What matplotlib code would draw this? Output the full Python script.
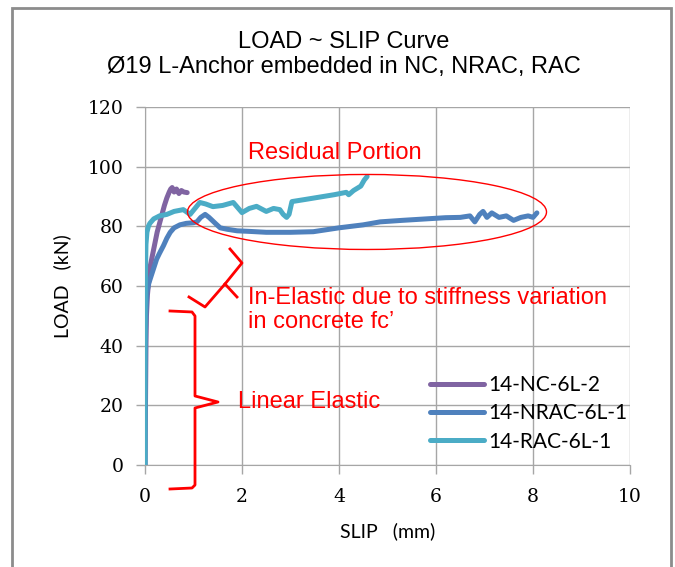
import numpy as np
import matplotlib.pyplot as plt
from matplotlib.patches import Ellipse, Rectangle

# ===== Data =====
nc_slip = [0.0, 0.01, 0.02, 0.03, 0.05, 0.08, 0.10, 0.15, 0.20, 0.25, 0.30, 0.35, 0.40, 0.45,
           0.50, 0.53, 0.56, 0.60, 0.65, 0.70, 0.75, 0.80, 0.87]
nc_load = [0.0, 20.0, 40.0, 50.0, 57.0, 62.0, 66.0, 70.0, 74.0, 78.0, 81.0, 84.0, 87.0, 89.5,
           91.5, 92.5, 93.0, 91.5, 92.5, 91.0, 92.0, 91.5, 91.3]

nrac_slip = [0.0, 0.0, 0.01, 0.02, 0.04, 0.08, 0.12, 0.18, 0.24, 0.30, 0.38, 0.45, 0.52, 0.60,
             0.72, 0.85, 1.0, 1.07, 1.15, 1.24, 1.32, 1.45, 1.55, 1.70, 1.90, 2.16, 2.5, 3.0,
             3.47, 4.0, 4.5, 4.85, 5.3, 5.8, 6.2, 6.5, 6.7, 6.8, 6.9, 6.97, 7.05, 7.15, 7.3,
             7.45, 7.6, 7.75, 7.9, 8.0, 8.08]
nrac_load = [0.0, 30.0, 45.0, 52.0, 58.0, 61.0, 63.0, 66.0, 69.0, 71.0, 73.5, 76.0, 78.0, 79.5,
             80.5, 81.0, 81.2, 81.5, 83.0, 84.0, 83.0, 81.0, 79.5, 79.0, 78.5, 78.3, 78.0, 78.0,
             78.2, 79.5, 80.5, 81.5, 82.0, 82.5, 82.9, 83.0, 83.5, 81.5, 84.0, 85.0, 83.0, 84.5,
             83.0, 83.5, 82.0, 83.0, 83.5, 83.0, 84.5]

rac_slip = [0.0, 0.0, 0.01, 0.02, 0.04, 0.07, 0.10, 0.18, 0.30, 0.45, 0.60, 0.79, 0.93, 1.03,
            1.13, 1.25, 1.40, 1.60, 1.82, 2.00, 2.15, 2.30, 2.50, 2.65, 2.78, 2.85, 2.92, 2.97,
            3.03, 3.3, 3.6, 3.9, 4.15, 4.2, 4.3, 4.45, 4.52, 4.58]
rac_load = [0.0, 40.0, 65.0, 74.0, 78.0, 80.0, 81.0, 82.5, 83.5, 84.0, 85.0, 85.6, 84.0, 86.0,
            88.0, 87.5, 86.6, 87.0, 88.0, 84.6, 86.0, 86.7, 85.0, 86.0, 85.6, 84.0, 83.0, 84.0,
            88.3, 89.0, 89.8, 90.6, 91.4, 90.6, 92.0, 93.5, 95.5, 96.7]

series_names = ["14-NC-6L-2", "14-NRAC-6L-1", "14-RAC-6L-1"]
series_colors = ["#8064A2", "#4F81BD", "#4BACC6"]

x_ticks = [0, 2, 4, 6, 8, 10]
y_ticks = [0, 20, 40, 60, 80, 100, 120]

# ===== Figure =====
fig = plt.figure(figsize=(6.75, 5.67), dpi=100)
ax = fig.add_axes([145 / 675, 1 - 465 / 567, 485 / 675, 358 / 567])

# outer chart border
fig.patches.append(Rectangle((12 / 675, -0.02), 659 / 675, 1.006, transform=fig.transFigure,
                             fill=False, edgecolor="#8C8C8C", linewidth=2))

for xs, ys, name, col in zip([nc_slip, nrac_slip, rac_slip], [nc_load, nrac_load, rac_load],
                             series_names, series_colors):
    ax.plot(xs, ys, color=col, linewidth=3.6, label=name, solid_capstyle="round",
            solid_joinstyle="round", zorder=3)

ax.set_xlim(0, 10)
ax.set_ylim(0, 120)
ax.set_xticks(x_ticks)
ax.set_yticks(y_ticks)
ax.grid(True, color="#A6A6A6", linewidth=1)
ax.set_axisbelow(True)
for s in ["top", "right"]:
    ax.spines[s].set_visible(False)
for s in ["left", "bottom"]:
    ax.spines[s].set_color("#A6A6A6")
ax.tick_params(direction="out", length=6.5, color="#A6A6A6", width=1)
ax.tick_params(axis="y", pad=9)
ax.tick_params(axis="x", pad=10)
for lab in ax.get_xticklabels() + ax.get_yticklabels():
    lab.set_fontfamily("DejaVu Serif")
    lab.set_fontsize(13.5)
    lab.set_color("black")

ax.set_xlabel("SLIP   (mm)", fontfamily="Lato", fontsize=14, labelpad=12)
ax.set_ylabel("LOAD   (kN)", fontfamily="Lato", fontsize=14, labelpad=12)

fig.text(344 / 675, 1 - 42 / 567, "LOAD ~ SLIP Curve", ha="center", va="center",
         fontfamily="Liberation Sans", fontsize=17)
fig.text(344 / 675, 1 - 67 / 567, "Ø19 L-Anchor embedded in NC, NRAC, RAC", ha="center",
         va="center", fontfamily="Liberation Sans", fontsize=17)

ax.legend(loc="upper left", bbox_to_anchor=(0.57, 0.275), frameon=False,
          prop={"family": "Lato", "size": 15}, handlelength=2.6, handletextpad=0.2,
          labelspacing=0.4, borderaxespad=0)


# ===== Annotations =====
def px(x, y):
    return (x - 145) / 48.5, (465 - y) / 2.983


red = "#FF0000"
ax.text(*px(248, 153), "Residual Portion", color=red, fontfamily="Liberation Sans",
        fontsize=17, va="center", ha="left")
ax.text(*px(248, 310), "In-Elastic due to stiffness variation\nin concrete fc’", color=red,
        fontfamily="Liberation Sans", fontsize=17, va="center", ha="left", linespacing=1.1)
ax.text(*px(238, 402), "Linear Elastic", color=red, fontfamily="Liberation Sans",
        fontsize=17, va="center", ha="left")

ax.add_patch(Ellipse(px(367, 212), 359 / 48.5, 75 / 2.983, fill=False, edgecolor=red,
                     linewidth=1, clip_on=False, zorder=4))

# brace for linear elastic part
lin_brace = [px(170, 311), px(192, 312), px(195, 316), px(195, 396), px(218, 402),
             px(195, 408), px(195, 485), px(192, 488), px(170, 489)]
bx, by = zip(*lin_brace)
ax.plot(bx, by, color=red, linewidth=2, clip_on=False, zorder=4)

# brace for inelastic part
in_brace = [px(230, 249), px(242, 263), px(225, 284), px(205, 307), px(189, 297)]
bx, by = zip(*in_brace)
ax.plot(bx, by, color=red, linewidth=2, clip_on=False, zorder=4)
tip = [px(225, 284), px(237, 297)]
bx, by = zip(*tip)
ax.plot(bx, by, color=red, linewidth=2, clip_on=False, zorder=4)

fig.savefig("out.png", dpi=100)
